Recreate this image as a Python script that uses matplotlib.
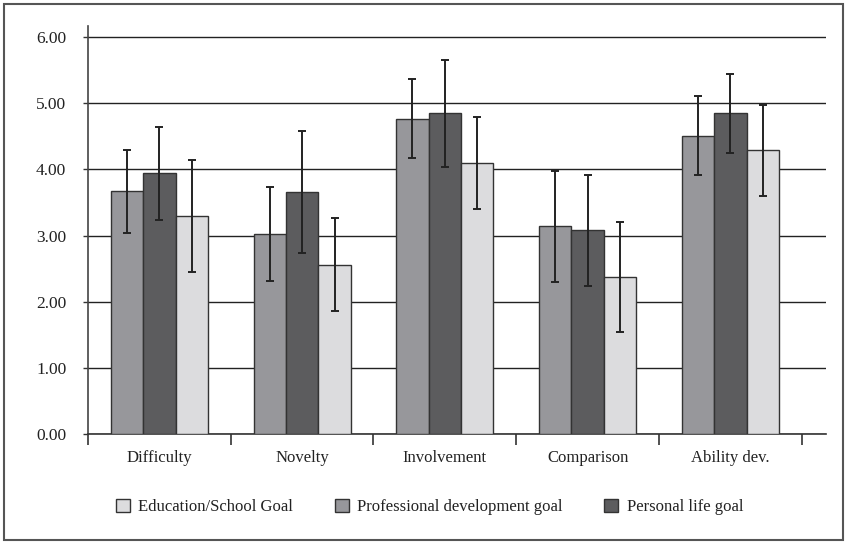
import matplotlib
matplotlib.use("Agg")
import matplotlib.pyplot as plt
import matplotlib.patches as mpatches
import numpy as np

plt.rcParams['font.family'] = ['Liberation Serif', 'DejaVu Serif']

# mean ratings and standard deviations per appraisal dimension
categories = ["Difficulty", "Novelty", "Involvement", "Comparison", "Ability dev."]
prof_mean = [3.67, 3.02, 4.77, 3.14, 4.51]
prof_sd = [0.63, 0.71, 0.60, 0.84, 0.60]
pers_mean = [3.94, 3.66, 4.85, 3.08, 4.85]
pers_sd = [0.71, 0.92, 0.81, 0.84, 0.60]
edu_mean = [3.30, 2.56, 4.10, 2.37, 4.29]
edu_sd = [0.85, 0.70, 0.69, 0.83, 0.69]
yticks = [0, 1, 2, 3, 4, 5, 6]

fig = plt.figure(figsize=(8.47, 5.44), dpi=100)
ax = fig.add_axes([88/847, 1-434/544, (826-88)/847, (434-26)/544])

x = np.arange(len(categories))
w = 0.227
err = dict(ecolor='#222222', elinewidth=1.4, capsize=2.8, capthick=1.4)
ax.bar(x - w, prof_mean, w, yerr=prof_sd, color='#97979b', edgecolor='#333333',
       linewidth=1, error_kw=err, zorder=3)
ax.bar(x, pers_mean, w, yerr=pers_sd, color='#5c5c5e', edgecolor='#333333',
       linewidth=1, error_kw=err, zorder=3)
ax.bar(x + w, edu_mean, w, yerr=edu_sd, color='#dcdcde', edgecolor='#333333',
       linewidth=1, error_kw=err, zorder=3)

ax.set_xlim(-0.5, 4.67)
ax.set_ylim(0, 6.17)
ax.set_yticks(yticks)
ax.set_yticklabels(["%.2f" % v for v in yticks], fontsize=12.5, color='#222222')
ax.yaxis.grid(True, color='#222222', linewidth=1)
ax.set_axisbelow(True)

ax.set_xticks(x)
ax.set_xticklabels(categories, fontsize=12, color='#222222')
ax.set_xticks(np.arange(-0.5, 5, 1), minor=True)
ax.tick_params(axis='x', which='major', length=0, pad=11.5)
ax.tick_params(axis='x', which='minor', length=8, width=1.2, color='#333333', direction='out')
ax.tick_params(axis='y', length=3.6, width=1, color='#333333', pad=12)

for s in ['top', 'right']:
    ax.spines[s].set_visible(False)
ax.spines['left'].set_color('#444444')
ax.spines['bottom'].set_color('#333333')
ax.spines['left'].set_linewidth(1.2)
ax.spines['bottom'].set_linewidth(1.2)

handles = [mpatches.Patch(facecolor='#dcdcde', edgecolor='#333333', label='Education/School Goal'),
           mpatches.Patch(facecolor='#97979b', edgecolor='#333333', label='Professional development goal'),
           mpatches.Patch(facecolor='#5c5c5e', edgecolor='#333333', label='Personal life goal')]
fig.legend(handles=handles, loc='center', bbox_to_anchor=(0.507, 1-507/544), ncol=3,
           frameon=False, fontsize=12, handlelength=0.85, handleheight=0.85,
           columnspacing=2.5, handletextpad=0.5, labelcolor='#222222')

# outer frame
fig.patches.append(mpatches.Rectangle((4/847, 4/544), 839/847, 536/544, fill=False,
                                      edgecolor='#555555', linewidth=1.5,
                                      transform=fig.transFigure, figure=fig))

fig.savefig("out.png", dpi=100)
